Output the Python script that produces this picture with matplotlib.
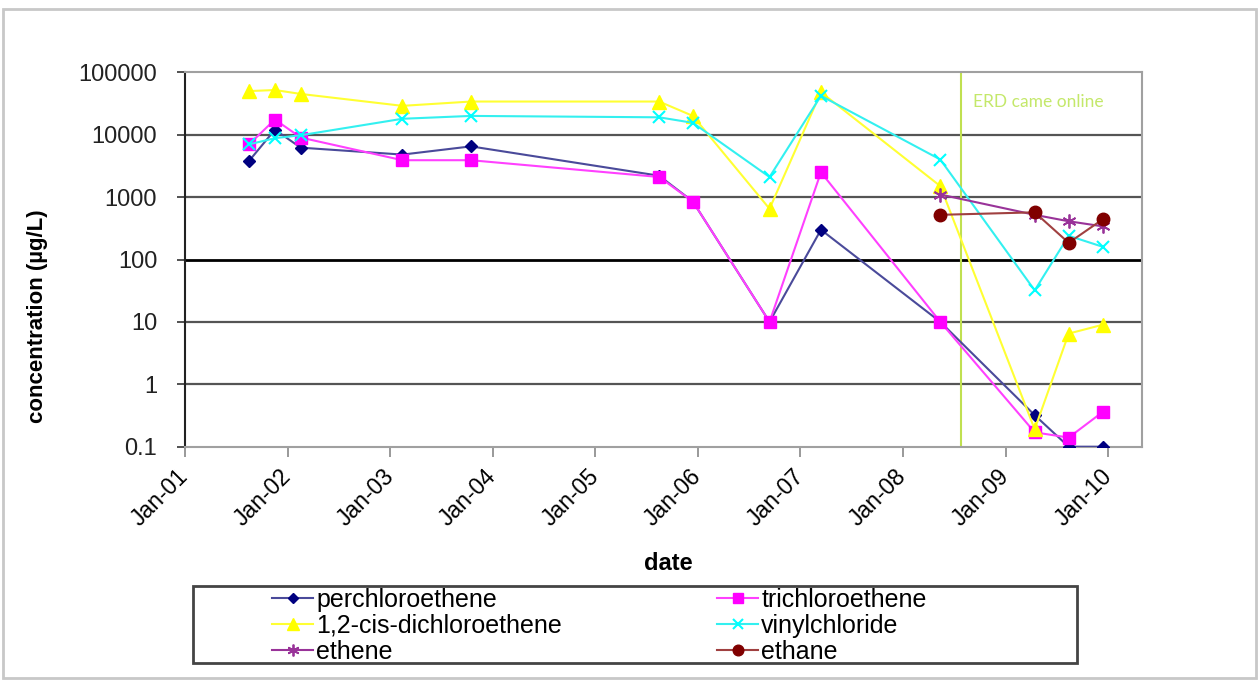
import matplotlib
matplotlib.use("Agg")
import matplotlib.pyplot as plt
from matplotlib.patches import Rectangle
import datetime as dt

plt.rcParams['font.family'] = ['Liberation Sans', 'DejaVu Sans']

# ---- data ----
dates = ['2001-08-17', '2001-11-17', '2002-02-17', '2003-02-14', '2003-10-16',
         '2005-08-16', '2005-12-14', '2006-09-13', '2007-03-15', '2008-05-13',
         '2009-04-14', '2009-08-13', '2009-12-12']
perchloroethene = [3800, 12000, 6200, 4800, 6500, 2200, 850, 10, 300, 10, 0.32, 0.1, 0.1]
trichloroethene = [7000, 17500, 9000, 3900, 3900, 2100, 850, 10, 2500, 10, 0.17, 0.14, 0.36]
dichloroethene = [50000, 52000, 45000, 29000, 34000, 34000, 20000, 650, 48000, 1500, 0.19, 6.5, 9]
vinylchloride = [7000, 8800, 9800, 18000, 20000, 19000, 15500, 2100, 42000, 4000, 32, 240, 160]
late_dates = ['2008-05-13', '2009-04-14', '2009-08-13', '2009-12-12']
ethene = [1100, 520, 410, 340]
ethane = [520, 570, 185, 440]
erd_date = '2008-07-25'
erd_label = 'ERD came online'
xtick_years = list(range(2001, 2011))
ytick_vals = [0.1, 1, 10, 100, 1000, 10000, 100000]
ytick_labels = ['0.1', '1', '10', '100', '1000', '10000', '100000']

to_dt = lambda s: dt.datetime.strptime(s, '%Y-%m-%d')
d_all = [to_dt(s) for s in dates]
d_late = [to_dt(s) for s in late_dates]

fig = plt.figure(figsize=(12.59, 6.81), dpi=100)
fig.patch.set_facecolor('white')

# outer frame (screenshot border)
fig.patches.append(Rectangle((3/1259, 1-678/681), 1253/1259, 669/681,
                             transform=fig.transFigure, fill=False,
                             edgecolor='#c8c8c8', lw=2))

ax = fig.add_axes([185/1259, 1-446.7/681, (1142-185)/1259, (446.7-72.3)/681])
ax.set_yscale('log')
ax.set_ylim(0.1, 100000)
ax.set_xlim(dt.datetime(2001, 1, 1), dt.datetime(2010, 5, 1))

# gridlines
for v in ytick_vals[1:-1]:
    ax.axhline(v, color='black' if v == 100 else '#555555',
               lw=2.0 if v == 100 else 1.6, zorder=1)

series = [
    (perchloroethene, d_all, 'perchloroethene', '#4a4a9a', '#000080', 'D', 6.0, 1.0),
    (trichloroethene, d_all, 'trichloroethene', '#ff40ff', '#ff00ff', 's', 8.5, 1.0),
    (dichloroethene, d_all, '1,2-cis-dichloroethene', '#ffff33', '#ffff00', '^', 10, 1.0),
    (vinylchloride, d_all, 'vinylchloride', '#33f0f0', '#00ffff', 'x', 9, 1.5),
    (ethene, d_late, 'ethene', '#993399', '#993399', (6, 2, 0), 10, 1.3),
    (ethane, d_late, 'ethane', '#a04040', '#800000', 'o', 9, 1.0),
]
handles = {}
for vals, dd, name, lc, mc, mk, ms, mew in series:
    h, = ax.plot(dd, vals, color=lc, lw=1.5, marker=mk, ms=ms,
                 markerfacecolor=mc, markeredgecolor=mc, markeredgewidth=mew,
                 label=name, zorder=3)
    handles[name] = h

ax.axvline(to_dt(erd_date), color='#c0e050', lw=1.5, zorder=2)
ax.text(to_dt(erd_date) + dt.timedelta(days=45), 10**(5 - 29.4/62.4), erd_label,
        color='#c4e86a', fontsize=12.5, family=['Lato', 'DejaVu Sans'],
        va='center', ha='left')

# axes styling
ax.set_yticks(ytick_vals)
ax.set_yticklabels(ytick_labels)
ax.yaxis.set_minor_locator(matplotlib.ticker.NullLocator())
ax.set_xticks([dt.datetime(y, 1, 1) for y in xtick_years])
ax.set_xticklabels([f'Jan-{y % 100:02d}' for y in xtick_years])
ax.tick_params(axis='y', which='major', length=6, width=1.2, color='#333333',
               labelsize=17, pad=14, direction='out')
ax.tick_params(axis='x', which='major', length=7, width=1.2, color='#888888',
               labelsize=16.5, pad=12, direction='out')
for lab in ax.get_xticklabels():
    lab.set_rotation(45)
    lab.set_ha('right')
    lab.set_va('center')
    lab.set_rotation_mode('anchor')
for lab in ax.get_yticklabels():
    lab.set_color('#222222')

ax.spines['left'].set_color('#222222')
ax.spines['left'].set_linewidth(1.5)
for s in ['top', 'right', 'bottom']:
    ax.spines[s].set_color('#a0a0a0')
    ax.spines[s].set_linewidth(1.5)

fig.text(38/1259, 1-316/681, 'concentration (µg/L)', rotation=90,
         fontsize=16, fontweight='bold', ha='center', va='center')
fig.text(668/1259, 1-563/681, 'date', fontsize=17, fontweight='bold',
         ha='center', va='center')

# legend
fig.patches.append(Rectangle((193/1259, 1-663/681), (1077-193)/1259, (663-586)/681,
                             transform=fig.transFigure, fill=False,
                             edgecolor='#444444', lw=2))
order = ['perchloroethene', '1,2-cis-dichloroethene', 'ethene',
         'trichloroethene', 'vinylchloride', 'ethane']
leg = fig.legend([handles[n] for n in order], order, ncol=2, frameon=False,
                 loc='upper left', bbox_to_anchor=(272/1259, 1-588/681),
                 borderpad=0, borderaxespad=0, fontsize=18,
                 handlelength=1.65, handletextpad=0.12, columnspacing=6.2,
                 labelspacing=0.08, markerscale=0.85)

fig.savefig('out.png', dpi=100)
